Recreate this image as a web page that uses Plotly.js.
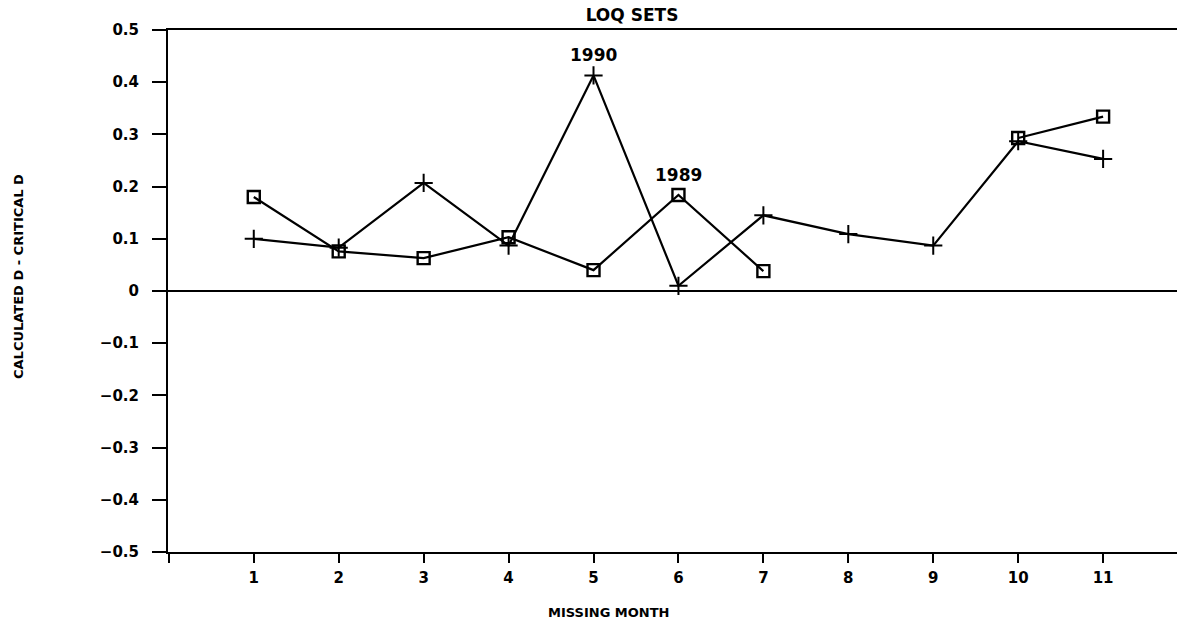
<!DOCTYPE html>
<html>
<head>
<meta charset="utf-8">
<script src="https://cdn.plot.ly/plotly-3.0.1.min.js"></script>
<style>html,body{margin:0;padding:0;background:#fff;}#chart{width:1177px;height:625px;}</style>
</head>
<body>
<div id="chart"></div>
<script>
// ---- data ----
const months = [1, 2, 3, 4, 5, 6, 7, 8, 9, 10, 11];
const set1990 = [0.100, 0.083, 0.207, 0.087, 0.413, 0.010, 0.145, 0.109, 0.087, 0.287, 0.253];
const set1989 = [0.180, 0.076, 0.063, 0.103, 0.040, 0.184, 0.038, null, null, 0.293, 0.334];
const xTickVals = [0, 1, 2, 3, 4, 5, 6, 7, 8, 9, 10, 11];
const xTickText = ['', '1', '2', '3', '4', '5', '6', '7', '8', '9', '10', '11'];
const yTickVals = [-0.5, -0.4, -0.3, -0.2, -0.1, 0, 0.1, 0.2, 0.3, 0.4, 0.5];
const yTickText = ['\u22120.5', '\u22120.4', '\u22120.3', '\u22120.2', '\u22120.1', '0', '0.1', '0.2', '0.3', '0.4', '0.5'];
const chartTitle = 'LOQ SETS';
const xTitle = 'MISSING MONTH';
const yTitle = 'CALCULATED D - CRITICAL D';
const label1990 = '1990';
const label1989 = '1989';

const FONT = 'DejaVu Sans, Arial, sans-serif';

const traces = [
  {
    x: months, y: set1990, type: 'scatter', mode: 'lines+markers', name: label1990,
    line: {color: '#000', width: 2.2},
    marker: {symbol: 'cross-thin-open', size: 13, color: '#000', line: {color: '#000', width: 2}},
    connectgaps: false
  },
  {
    x: months, y: set1989, type: 'scatter', mode: 'lines+markers', name: label1989,
    line: {color: '#000', width: 2.2},
    marker: {symbol: 'square-open', size: 12, color: '#000', line: {color: '#000', width: 2.4}},
    connectgaps: false
  }
];

const layout = {
  width: 1177, height: 625,
  margin: {l: 168, r: 0, t: 30, b: 73, pad: 0},
  paper_bgcolor: '#fff', plot_bgcolor: '#fff',
  showlegend: false,
  font: {family: FONT, color: '#000', size: 14, weight: 'bold'},
  title: {
    text: chartTitle, font: {family: FONT, size: 17, color: '#000', weight: 'bold'},
    xref: 'container', x: 632 / 1177, xanchor: 'center',
    yref: 'container', y: 1 - 15 / 625, yanchor: 'middle'
  },
  xaxis: {
    range: [-0.01, 11.87], tickmode: 'array', tickvals: xTickVals, ticktext: xTickText,
    showgrid: false, zeroline: false, showline: true, linecolor: '#000', linewidth: 2,
    mirror: true, ticks: 'outside', ticklen: 9, tickwidth: 2, tickcolor: '#000',
    ticklabelstandoff: 2,
    tickfont: {family: FONT, size: 15, color: '#000', weight: 'bold'}
  },
  yaxis: {
    range: [-0.5, 0.5], tickmode: 'array', tickvals: yTickVals, ticktext: yTickText,
    showgrid: false, zeroline: true, zerolinecolor: '#000', zerolinewidth: 2,
    showline: true, linecolor: '#000', linewidth: 2, mirror: false,
    ticks: 'outside', ticklen: 14, tickwidth: 2, tickcolor: '#000',
    ticklabelstandoff: 10,
    tickfont: {family: FONT, size: 15, color: '#000', weight: 'bold'}
  },
  annotations: [
    {x: 5, y: set1990[4], xref: 'x', yref: 'y', text: label1990, showarrow: false,
     yanchor: 'bottom', yshift: 8, font: {family: FONT, size: 17, color: '#000', weight: 'bold'}},
    {x: 6, y: set1989[5], xref: 'x', yref: 'y', text: label1989, showarrow: false,
     yanchor: 'bottom', yshift: 8, font: {family: FONT, size: 17, color: '#000', weight: 'bold'}},
    {x: 0, y: 0, xref: 'paper', yref: 'paper', text: xTitle, showarrow: false,
     xanchor: 'center', yanchor: 'middle', font: {family: FONT, size: 13, color: '#000', weight: 'bold'}},
    {x: 0, y: 0, xref: 'paper', yref: 'paper', text: yTitle, showarrow: false, textangle: -90,
     xanchor: 'center', yanchor: 'middle', font: {family: FONT, size: 13, color: '#000', weight: 'bold'}}
  ]
};

// place axis-title annotations at their pixel positions (converted to paper coordinates)
const plotL = layout.margin.l, plotW = layout.width - layout.margin.l - layout.margin.r;
const plotT = layout.margin.t, plotH = layout.height - layout.margin.t - layout.margin.b;
layout.annotations[2].x = (608 - plotL) / plotW;
layout.annotations[2].y = (plotT + plotH - 612) / plotH;
layout.annotations[3].x = (18 - plotL) / plotW;
layout.annotations[3].y = (plotT + plotH - 277) / plotH;

Plotly.newPlot('chart', traces, layout, {displayModeBar: false, staticPlot: true});
</script>
</body>
</html>
